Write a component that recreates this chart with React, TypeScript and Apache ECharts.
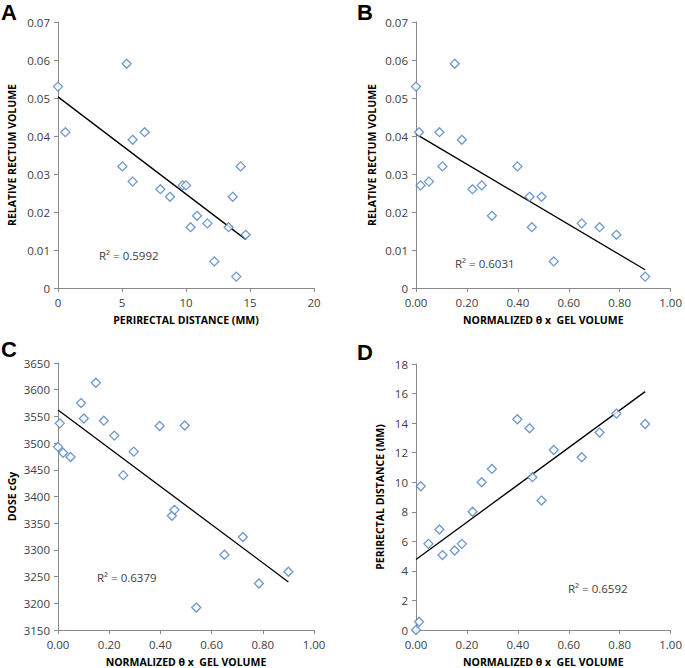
import React, { useEffect, useRef } from "react";
import * as echarts from "echarts";

// Panel A: perirectal distance vs relative rectum volume
const aX = [0, 0.57, 5.36, 5.83, 6.77, 5.03, 5.83, 8.0, 8.75, 9.74, 10.0, 10.86, 10.36, 11.67, 12.21, 13.33, 13.65, 14.27, 14.66, 13.93];
const aY = [0.053, 0.041, 0.059, 0.039, 0.041, 0.032, 0.028, 0.026, 0.024, 0.027, 0.027, 0.019, 0.016, 0.017, 0.007, 0.016, 0.024, 0.032, 0.014, 0.003];
const aTrend = [[0, 0.0503], [14.66, 0.0128]];

// Panel B: normalized theta x gel volume vs relative rectum volume
const bX = [0, 0.012, 0.152, 0.18, 0.092, 0.104, 0.018, 0.051, 0.222, 0.258, 0.298, 0.398, 0.446, 0.493, 0.455, 0.541, 0.651, 0.721, 0.787, 0.9];
const bY = [0.053, 0.041, 0.059, 0.039, 0.041, 0.032, 0.027, 0.028, 0.026, 0.027, 0.019, 0.032, 0.024, 0.024, 0.016, 0.007, 0.017, 0.016, 0.014, 0.003];
const bTrend = [[0, 0.0405], [0.9, 0.0048]];

// Panel C: normalized theta x gel volume vs dose
const cX = [0, 0.007, 0.02, 0.049, 0.09, 0.101, 0.148, 0.179, 0.22, 0.255, 0.296, 0.397, 0.495, 0.445, 0.455, 0.54, 0.65, 0.722, 0.785, 0.9];
const cY = [3493, 3537, 3482, 3474, 3575, 3546, 3613, 3542, 3514, 3440, 3484, 3532, 3533, 3364, 3375, 3192, 3291, 3324, 3237, 3259];
const cTrend = [[0, 3562], [0.9, 3240]];

// Panel D: normalized theta x gel volume vs perirectal distance
const dX = [0, 0.012, 0.019, 0.049, 0.092, 0.104, 0.152, 0.18, 0.222, 0.258, 0.298, 0.398, 0.446, 0.457, 0.493, 0.541, 0.651, 0.721, 0.787, 0.9];
const dY = [0, 0.56, 9.73, 5.83, 6.8, 5.07, 5.38, 5.83, 8.0, 10.0, 10.9, 14.26, 13.65, 10.34, 8.76, 12.18, 11.69, 13.36, 14.64, 13.94];
const dTrend = [[0, 4.77], [0.9, 16.13]];

const panelLabels = ["A", "B", "C", "D"];
const r2Labels = ["R² = 0.5992", "R² = 0.6031", "R² = 0.6379", "R² = 0.6592"];
const xTitles = ["PERIRECTAL DISTANCE (MM)", "NORMALIZED θ x  GEL VOLUME", "NORMALIZED θ x  GEL VOLUME", "NORMALIZED θ x  GEL VOLUME"];
const yTitles = ["RELATIVE RECTUM VOLUME", "RELATIVE RECTUM VOLUME", "DOSE cGy", "PERIRECTAL DISTANCE (MM)"];

const FONT = "'Open Sans', 'Liberation Sans', sans-serif";
const AXIS_COLOR = "#8a8a8a";
const TEXT_COLOR = "#404040";
const MARK_COLOR = "#4a7ebb";

function zip(xs: number[], ys: number[]) {
  return xs.map((x, i) => [x, ys[i]]);
}

export default function App() {
  const ref = useRef<HTMLDivElement>(null);

  useEffect(() => {
    if (!ref.current) return;
    const chart = echarts.init(ref.current, null, { renderer: "svg" });

    const grids = [
      { left: 58, top: 22, width: 256, height: 266 },
      { left: 416, top: 22, width: 257, height: 266 },
      { left: 58, top: 363, width: 256, height: 268 },
      { left: 416, top: 364, width: 257, height: 266 },
    ];

    const axisCommon = {
      axisLine: { show: true, onZero: false, lineStyle: { color: AXIS_COLOR, width: 1 } },
      axisTick: { show: true, length: 4, lineStyle: { color: AXIS_COLOR } },
      splitLine: { show: false },
      nameLocation: "middle" as const,
      nameTextStyle: { fontFamily: FONT, fontWeight: "bold" as const, fontSize: 10.5, color: "#000" },
      axisLabel: { fontFamily: FONT, fontSize: 11.5, color: TEXT_COLOR },
    };

    const fracFmt = (v: number) => v.toFixed(2);
    const volFmt = (v: number) => (Math.abs(v) < 1e-9 ? "0" : v.toFixed(2));

    const xAxes = [
      { min: 0, max: 20, interval: 5, fmt: (v: number) => String(v) },
      { min: 0, max: 1, interval: 0.2, fmt: fracFmt },
      { min: 0, max: 1, interval: 0.2, fmt: fracFmt },
      { min: 0, max: 1, interval: 0.2, fmt: fracFmt },
    ].map((a, i) => ({
      ...axisCommon,
      type: "value" as const,
      gridIndex: i,
      min: a.min,
      max: a.max,
      interval: a.interval,
      name: xTitles[i],
      nameGap: 26,
      axisLabel: { ...axisCommon.axisLabel, margin: 8, formatter: a.fmt },
    }));

    const yAxes = [
      { min: 0, max: 0.07, interval: 0.01, fmt: volFmt, gap: 41 },
      { min: 0, max: 0.07, interval: 0.01, fmt: volFmt, gap: 39 },
      { min: 3150, max: 3650, interval: 50, fmt: (v: number) => String(v), gap: 41 },
      { min: 0, max: 18, interval: 2, fmt: (v: number) => String(v), gap: 31 },
    ].map((a, i) => ({
      ...axisCommon,
      type: "value" as const,
      gridIndex: i,
      min: a.min,
      max: a.max,
      interval: a.interval,
      name: yTitles[i],
      nameGap: a.gap,
      axisLabel: { ...axisCommon.axisLabel, margin: 8, formatter: a.fmt },
    }));

    const scatterData = [zip(aX, aY), zip(bX, bY), zip(cX, cY), zip(dX, dY)];
    const trends = [aTrend, bTrend, cTrend, dTrend];

    const series: any[] = [];
    scatterData.forEach((data, i) => {
      series.push({
        type: "line",
        xAxisIndex: i,
        yAxisIndex: i,
        data: trends[i],
        symbol: "none",
        lineStyle: { color: "#000", width: 1.3 },
        z: 2,
      });
      series.push({
        type: "scatter",
        xAxisIndex: i,
        yAxisIndex: i,
        data,
        symbol: "diamond",
        symbolSize: 9,
        clip: false,
        itemStyle: { color: "#fff", borderColor: MARK_COLOR, borderWidth: 1.3 },
        z: 3,
      });
    });

    const panelPos = [
      [1, 1],
      [357, 1],
      [1, 338],
      [357, 341],
    ];
    const r2Pos = [
      [99, 255],
      [455, 263],
      [97, 577],
      [568, 588],
    ];

    const graphic: any[] = [];
    panelLabels.forEach((t, i) => {
      graphic.push({
        type: "text",
        left: panelPos[i][0],
        top: panelPos[i][1],
        style: { text: t, font: `bold 22px 'Liberation Sans', Arial, sans-serif`, fill: "#000" },
      });
    });
    r2Labels.forEach((t, i) => {
      graphic.push({
        type: "text",
        x: r2Pos[i][0],
        y: r2Pos[i][1],
        style: {
          text: t,
          font: `11.5px ${FONT}`,
          fill: TEXT_COLOR,
          verticalAlign: "middle",
          align: "left",
        },
      });
    });

    chart.setOption({
      animation: false,
      backgroundColor: "#fff",
      grid: grids,
      xAxis: xAxes,
      yAxis: yAxes,
      series,
      graphic,
    });

    return () => chart.dispose();
  }, []);

  return (
    <div
      ref={ref}
      style={{ position: "fixed", left: 0, top: 0, width: 685, height: 668, background: "#fff" }}
    />
  );
}
